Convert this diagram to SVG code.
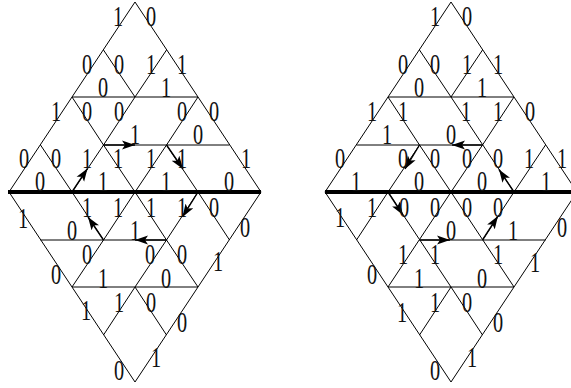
<svg xmlns="http://www.w3.org/2000/svg" width="571" height="388" viewBox="0 0 571 388">
<style>
.e{fill:none;stroke:#000;stroke-width:1}
.b{fill:none;stroke:#000;stroke-width:4}
.a{fill:none;stroke:#000;stroke-width:1.4;marker-end:url(#h)}
text{font-family:"Liberation Serif","Times New Roman",serif;font-size:29px;fill:#111;text-anchor:middle}
</style>
<defs>
<marker id="h" markerUnits="userSpaceOnUse" markerWidth="14" markerHeight="10" refX="13" refY="5" orient="auto"><path d="M0 0.5L13 5L0 9.5L3 5Z" fill="#000"/></marker>
</defs>
<g id="connectors">
<g id="left-edges">
<path class="e" d="M9 192L135 2L261 192L135 382Z"/>
<path class="e" d="M103.5 50L135 97L166.5 50M72 97H198M72 97L103.5 145L135 97M198 97L166.5 145M103.5 145H229.500M40.500 145L72 192L103.500 145L135 192L166.500 145L198 192"/>
<path class="e" d="M72 192L103.500 240L135 192L166.500 240L198 192L229.500 240M40.500 240H166.500M72 287L103.500 240M166.500 240L135 287M166.500 240L198 287M72 287H198M135 287L166.500 335M135 287L103.500 335"/>
<path class="b" d="M8 192H261"/>
<path class="a" d="M72 192L87.500 168.500"/>
<path class="a" d="M103.500 145H135"/>
<path class="a" d="M166.500 145L183 169"/>
<path class="a" d="M103.500 240L88 217"/>
<path class="a" d="M166.500 240H135"/>
<path class="a" d="M198 192L182.500 217"/>
</g>
<g id="right-edges">
<path class="e" d="M325 192L451 2L577 192L451 382Z"/>
<path class="e" d="M419.500 50L451 97L482.500 50M388 97H514M388 97L419.500 145L388 192M451 97L514 192M514 97L482.500 145M356.500 145H482.500M419.500 145L451 192L482.500 145M545.500 145L514 192"/>
<path class="e" d="M388 192L451 287M451 192L388 287M451 192L514 287M514 192V192M482.500 240L514 192M419.500 240H545.500M388 287H514M356.500 240L388 192M451 287L419.500 335M451 287L482.500 335"/>
<path class="b" d="M325 192H571"/>
<path class="a" d="M419.500 145L405 169"/>
<path class="a" d="M482.500 145H452"/>
<path class="a" d="M514 192L499 169.500"/>
<path class="a" d="M388 192L403 215"/>
<path class="a" d="M419.500 240H450"/>
<path class="a" d="M482.500 240L498 216"/>
</g>
</g>
<g id="left-labels">
<text transform="matrix(.7 0 0 1 118 26)">1</text><text transform="matrix(.7 0 0 1 151 26)">0</text>
<text transform="matrix(.7 0 0 1 87 74)">0</text><text transform="matrix(.7 0 0 1 119 74)">0</text><text transform="matrix(.7 0 0 1 151 74)">1</text><text transform="matrix(.7 0 0 1 182 74)">1</text>
<text transform="matrix(.7 0 0 1 103 97)">0</text><text transform="matrix(.7 0 0 1 166 97)">1</text>
<text transform="matrix(.7 0 0 1 56 121)">1</text><text transform="matrix(.7 0 0 1 87 121)">0</text><text transform="matrix(.7 0 0 1 119 121)">0</text><text transform="matrix(.7 0 0 1 182 121)">0</text><text transform="matrix(.7 0 0 1 214 121)">0</text>
<text transform="matrix(.7 0 0 1 135 144)">1</text><text transform="matrix(.7 0 0 1 198 144)">0</text>
<text transform="matrix(.7 0 0 1 24 168)">0</text><text transform="matrix(.7 0 0 1 56 168)">0</text><text transform="matrix(.7 0 0 1 87 168)">1</text><text transform="matrix(.7 0 0 1 118 168)">1</text><text transform="matrix(.7 0 0 1 151 168)">1</text><text transform="matrix(.7 0 0 1 182 168)">1</text><text transform="matrix(.7 0 0 1 246 168)">1</text>
<text transform="matrix(.7 0 0 1 40 191)">0</text><text transform="matrix(.7 0 0 1 103 191)">1</text><text transform="matrix(.7 0 0 1 166 191)">1</text><text transform="matrix(.7 0 0 1 229 191)">0</text>
<text transform="matrix(.7 0 0 1 23 228)">1</text><text transform="matrix(.7 0 0 1 87 217)">1</text><text transform="matrix(.7 0 0 1 118 217)">1</text><text transform="matrix(.7 0 0 1 151 217)">1</text><text transform="matrix(.7 0 0 1 182 217)">1</text><text transform="matrix(.7 0 0 1 214 217)">0</text>
<text transform="matrix(.7 0 0 1 245 237)">0</text><text transform="matrix(.7 0 0 1 72 240)">0</text><text transform="matrix(.7 0 0 1 135 240)">1</text>
<text transform="matrix(.7 0 0 1 87 264)">0</text><text transform="matrix(.7 0 0 1 150 264)">0</text><text transform="matrix(.7 0 0 1 182 264)">0</text>
<text transform="matrix(.7 0 0 1 56 284)">0</text><text transform="matrix(.7 0 0 1 218 271)">1</text>
<text transform="matrix(.7 0 0 1 103 288)">1</text><text transform="matrix(.7 0 0 1 166 288)">0</text>
<text transform="matrix(.7 0 0 1 86 320)">1</text><text transform="matrix(.7 0 0 1 119 312)">1</text><text transform="matrix(.7 0 0 1 151 312)">0</text><text transform="matrix(.7 0 0 1 182 332)">0</text>
<text transform="matrix(.7 0 0 1 119 380)">0</text><text transform="matrix(.7 0 0 1 156 367)">1</text>
</g>
<g id="right-labels">
<text transform="matrix(.7 0 0 1 435 26)">1</text><text transform="matrix(.7 0 0 1 467 26)">0</text>
<text transform="matrix(.7 0 0 1 403 74)">0</text><text transform="matrix(.7 0 0 1 435 74)">0</text><text transform="matrix(.7 0 0 1 467 74)">1</text><text transform="matrix(.7 0 0 1 498 74)">1</text>
<text transform="matrix(.7 0 0 1 419 97)">0</text><text transform="matrix(.7 0 0 1 482 97)">1</text>
<text transform="matrix(.7 0 0 1 372 121)">1</text><text transform="matrix(.7 0 0 1 403 121)">1</text><text transform="matrix(.7 0 0 1 466 121)">1</text><text transform="matrix(.7 0 0 1 498 121)">1</text><text transform="matrix(.7 0 0 1 530 121)">0</text>
<text transform="matrix(.7 0 0 1 387 144)">1</text><text transform="matrix(.7 0 0 1 451 144)">0</text>
<text transform="matrix(.7 0 0 1 340 168)">0</text><text transform="matrix(.7 0 0 1 403 168)">0</text><text transform="matrix(.7 0 0 1 435 168)">0</text><text transform="matrix(.7 0 0 1 467 168)">0</text><text transform="matrix(.7 0 0 1 498 168)">0</text><text transform="matrix(.7 0 0 1 529 168)">1</text><text transform="matrix(.7 0 0 1 562 168)">1</text>
<text transform="matrix(.7 0 0 1 356 191)">1</text><text transform="matrix(.7 0 0 1 419 191)">0</text><text transform="matrix(.7 0 0 1 482 191)">0</text><text transform="matrix(.7 0 0 1 546 191)">1</text>
<text transform="matrix(.7 0 0 1 340 227)">1</text><text transform="matrix(.7 0 0 1 372 217)">1</text><text transform="matrix(.7 0 0 1 404 217)">0</text><text transform="matrix(.7 0 0 1 435 217)">0</text><text transform="matrix(.7 0 0 1 467 217)">0</text><text transform="matrix(.7 0 0 1 498 217)">0</text>
<text transform="matrix(.7 0 0 1 562 237)">0</text><text transform="matrix(.7 0 0 1 451 240)">0</text><text transform="matrix(.7 0 0 1 513 240)">1</text>
<text transform="matrix(.7 0 0 1 403 264)">1</text><text transform="matrix(.7 0 0 1 435 264)">1</text><text transform="matrix(.7 0 0 1 498 264)">1</text>
<text transform="matrix(.7 0 0 1 535 272)">1</text><text transform="matrix(.7 0 0 1 372 284)">0</text>
<text transform="matrix(.7 0 0 1 419 288)">1</text><text transform="matrix(.7 0 0 1 482 288)">0</text>
<text transform="matrix(.7 0 0 1 435 312)">1</text><text transform="matrix(.7 0 0 1 467 312)">0</text><text transform="matrix(.7 0 0 1 402 322)">1</text><text transform="matrix(.7 0 0 1 498 332)">0</text>
<text transform="matrix(.7 0 0 1 435 380)">0</text><text transform="matrix(.7 0 0 1 472 367)">1</text>
</g>
</svg>
